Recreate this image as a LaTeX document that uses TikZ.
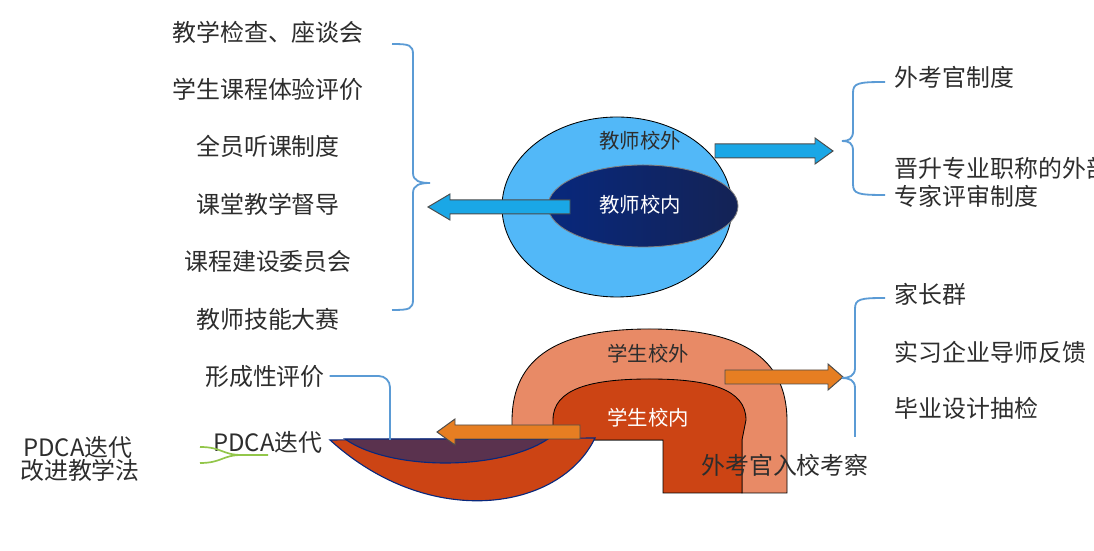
\documentclass[tikz,border=0pt]{standalone}
\usepackage{fontspec}
\newfontfamily\cjk{Noto Sans CJK SC}
\usetikzlibrary{positioning}
\definecolor{bracketblue}{RGB}{91,155,213}
\definecolor{textgray}{RGB}{45,45,45}
\definecolor{outerblue}{RGB}{82,184,248}
\definecolor{navyL}{RGB}{8,40,125}
\definecolor{navyR}{RGB}{20,35,85}
\definecolor{arrowblue}{RGB}{26,167,230}
\definecolor{salmon}{RGB}{232,138,102}
\definecolor{rust}{RGB}{204,68,20}
\definecolor{arroworange}{RGB}{230,126,34}
\definecolor{maroon}{RGB}{90,50,78}
\definecolor{leafgreen}{RGB}{146,198,74}

\begin{document}
\begin{tikzpicture}[x=0.025cm,y=0.025cm,
  txt/.style={font=\cjk\fontsize{17}{20}\selectfont, text=textgray},
  lbl/.style={font=\cjk\fontsize{14.5}{17}\selectfont},
  bracket/.style={draw=bracketblue, line width=1.3pt},
  fatarrow/.style={draw=black!70, line width=0.7pt},
  node distance=1.435cm]
\useasboundingbox (0,0) rectangle (1094,551);

% teachers
\draw[fill=outerblue, line width=0.6pt] (617,344) ellipse [x radius=115, y radius=90];
\shadedraw[left color=navyL, right color=navyR, draw=black!50, line width=0.6pt] (643,345) ellipse [x radius=95, y radius=41];
\node[lbl, text=textgray] (tout) at (640,410) {教师校外};
\node[lbl, text=white] (tin) at (640,346) {教师校内};

\node[txt] (c1) at (268,519) {教学检查、座谈会};
\node[txt, below of=c1] (c2) {学生课程体验评价};
\node[txt, below of=c2] (c3) {全员听课制度};
\node[txt, below of=c3] (c4) {课堂教学督导};
\node[txt, below of=c4] (c5) {课程建设委员会};
\node[txt, below of=c5] (c6) {教师技能大赛};
\draw[bracket] (392,507) .. controls (410,507) and (413,506) .. (413,496) -- (413,378)
  .. controls (413,370) and (420,368) .. (430,368) .. controls (420,368) and (413,366) .. (413,358)
  -- (413,252) .. controls (413,242) and (410,241) .. (392,241);

\draw[fatarrow, fill=arrowblue] (570,351) -- (450,351) -- (450,357) -- (428,344) -- (450,331) -- (450,337) -- (570,337) -- cycle;
\draw[fatarrow, fill=arrowblue] (715,407) -- (815,407) -- (815,413) -- (833,400) -- (815,387) -- (815,393) -- (715,393) -- cycle;

\draw[bracket] (885,469) .. controls (858,469) and (853,468) .. (853,458) -- (853,420)
  .. controls (853,412) and (849,410) .. (842,410) .. controls (849,410) and (853,408) .. (853,400)
  -- (853,367) .. controls (853,357) and (858,356) .. (885,356);
\node[txt, anchor=west] (e1) at (890,474) {外考官制度};
\node[txt, anchor=west, align=left] (e2) at (890,369) {晋升专业职称的外部\\专家评审制度};

% students
\draw[fill=salmon, line width=0.6pt] (512,111) -- (512,130) .. controls (512,195) and (560,222) .. (649.5,222)
  .. controls (739,222) and (787,195) .. (787,130) -- (787,58) -- (742,58) -- (742,111) -- cycle;
\draw[fill=rust, line width=0.6pt] (553,111) -- (553,131) .. controls (553,162) and (590,172) .. (649.5,172)
  .. controls (709,172) and (746,162) .. (746,131) -- (742,111) -- (742,58) -- (663,58) -- (663,111) -- cycle;
\node[lbl, text=textgray] (sout) at (648,197) {学生校外};
\node[lbl, text=white] (sin) at (648,133) {学生校内};

\draw[draw=navyL, fill=rust, line width=0.8pt] (595,113) .. controls (560,40) and (430,20) .. (330,111) -- cycle;
\draw[draw=navyL, fill=maroon, line width=0.8pt] (345,112) .. controls (390,80) and (500,80) .. (548,112) -- cycle;

\draw[fatarrow, fill=arroworange] (580,126) -- (455,126) -- (455,132) -- (437,119) -- (455,106) -- (455,112) -- (580,112) -- cycle;
\draw[fatarrow, fill=arroworange] (725,181) -- (828,181) -- (828,187) -- (843,174) -- (828,161) -- (828,167) -- (725,167) -- cycle;

\draw[bracket] (885,253) .. controls (860,253) and (855,252) .. (855,242) -- (855,183)
  .. controls (855,175) and (849,173) .. (842,173) .. controls (849,173) and (855,171) .. (855,163) -- (855,114);
\node[txt, anchor=west] (s1) at (890,257) {家长群};
\node[txt, anchor=west] (s2) at (890,199) {实习企业导师反馈};
\node[txt, anchor=west] (s3) at (890,143) {毕业设计抽检};

\node[txt] (f1) at (265,175) {形成性评价};
\coordinate (f1end) at (390,111);
\draw[bracket, rounded corners=8pt] (f1.east) -| (f1end);

\node[txt] (p1) at (78,104) {PDCA迭代};
\node[txt] (p2) at (80,81) {改进教学法};
\node[txt] (p3) at (268,109) {PDCA迭代};
\coordinate (gmid) at (242,96);
\draw[leafgreen, line width=1.2pt] (200,104) .. controls (222,104) and (222,96) .. (gmid);
\draw[leafgreen, line width=1.2pt] (200,88) .. controls (222,88) and (222,96) .. (gmid) -- (268,96);

\node[txt] (v1) at (785,86) {外考官入校考察};
\end{tikzpicture}
\end{document}
